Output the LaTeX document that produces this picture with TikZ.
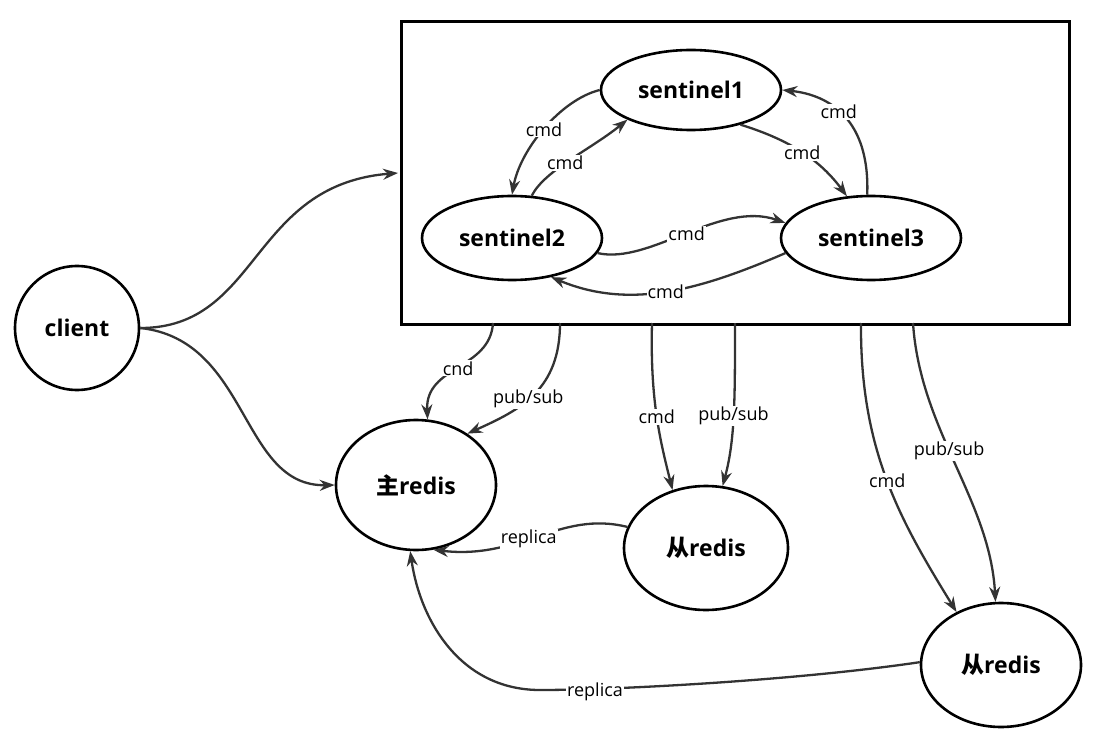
\documentclass[tikz,border=0pt]{standalone}
\usepackage{fontspec}
\setmainfont{Open Sans}
\newfontfamily\cjk{Noto Sans CJK SC}
\usetikzlibrary{arrows.meta,shapes.geometric}
\begin{document}
\begin{tikzpicture}[x=1pt,y=-1pt,
  nd/.style={draw,line width=2.6pt,ellipse,font=\bfseries\fontsize{23}{23}\selectfont},
  ar/.style={line width=2.3pt,draw=black!80,-{Stealth[length=15pt,width=11pt]}},
  lb/.style={fill=white,inner sep=1pt,font=\fontsize{18}{18}\selectfont}]
\useasboundingbox (0,0) rectangle (1097,735);
\node[draw,line width=2.6pt,minimum width=668pt,minimum height=303pt,anchor=north west,inner sep=0] (box) at (400,20) {};
\node[nd,minimum width=180pt,minimum height=80pt] (s1) at (691,90) {sentinel1};
\node[nd,minimum width=180pt,minimum height=84pt] (s2) at (512,238) {sentinel2};
\node[nd,minimum width=180pt,minimum height=84pt] (s3) at (871,238) {sentinel3};
\node[nd,circle,minimum size=124pt,inner sep=0] (c) at (77,328) {client};
\node[nd,minimum width=160pt,minimum height=130pt] (m) at (416,485) {{\cjk\bfseries 主}redis};
\node[nd,minimum width=164pt,minimum height=124pt] (r1) at (706,548) {{\cjk\bfseries 从}redis};
\node[nd,minimum width=160pt,minimum height=124pt] (r2) at (1001,665) {{\cjk\bfseries 从}redis};
\coordinate (bi) at (398,173);
\coordinate (b1) at (493,323); \coordinate (b2) at (560,323);
\coordinate (b3) at (652,323); \coordinate (b4) at (735,323);
\coordinate (b5) at (861,323); \coordinate (b6) at (913,323);
\draw[ar] (c.east) .. controls (260,328) and (250,185) .. (bi);
\draw[ar] (c.east) .. controls (250,340) and (240,487) .. (m.west);
\draw[ar] (s1.west) .. controls (560,100) and (520,150) .. (s2.north) node[lb,pos=0.5] {cmd};
\draw[ar] (s2.65) .. controls (545,170) and (590,150) .. (s1.205) node[lb,pos=0.45] {cmd};
\draw[ar] (s1.-35) .. controls (790,140) and (820,160) .. (s3.120) node[lb,pos=0.5] {cmd};
\draw[ar] (s3.95) .. controls (870,120) and (830,95) .. (s1.east) node[lb,pos=0.55] {cmd};
\draw[ar] (s2.-10) .. controls (650,265) and (720,200) .. (s3.170) node[lb,pos=0.5] {cmd};
\draw[ar] (s3.190) .. controls (700,290) and (630,310) .. (s2.-45) node[lb,pos=0.5] {cmd};
\draw[ar] (b1) .. controls (490,370) and (425,365) .. (m.80) node[lb,pos=0.5] {cnd};
\draw[ar] (b2) .. controls (560,390) and (520,410) .. (m.45) node[lb,pos=0.55] {pub/sub};
\draw[ar] (b3) .. controls (650,400) and (660,440) .. (r1.120) node[lb,pos=0.5] {cmd};
\draw[ar] (b4) .. controls (735,400) and (735,440) .. (r1.75) node[lb,pos=0.5] {pub/sub};
\draw[ar] (b5) .. controls (860,450) and (900,520) .. (r2.130) node[lb,pos=0.5] {cmd};
\draw[ar] (b6) .. controls (920,430) and (990,500) .. (r2.95) node[lb,pos=0.45] {pub/sub};
\draw[ar] (r1.165) .. controls (560,510) and (520,560) .. (m.-75) node[lb,pos=0.55] {replica};
\draw[ar] (r2.178) .. controls (800,680) and (620,690) .. (540,690) .. controls (460,690) and (420,620) .. (m.-95);
\node[lb] (rl) at (595,692) {replica};
\end{tikzpicture}
\end{document}
